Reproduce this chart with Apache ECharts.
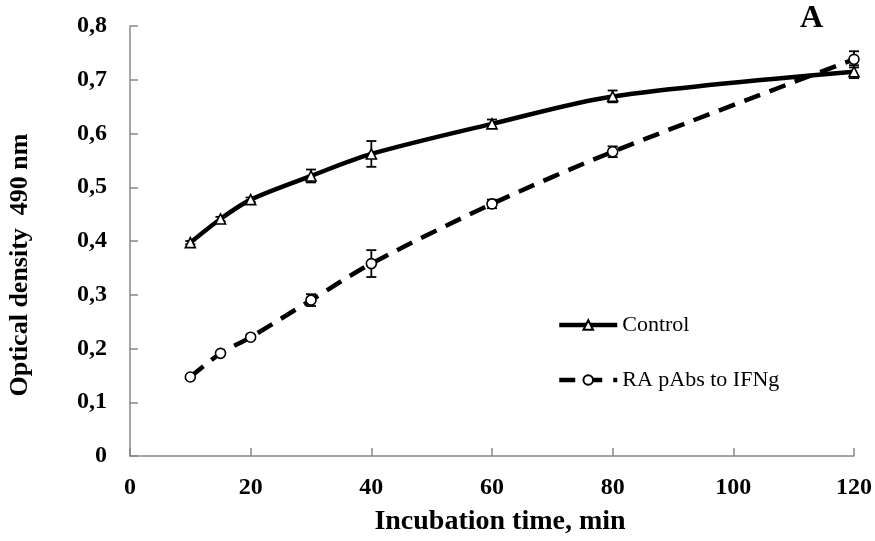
<!DOCTYPE html>
<html>
<head>
<meta charset="utf-8">
<script src="https://cdn.jsdelivr.net/npm/echarts@6/dist/echarts.min.js"></script>
<style>
  html, body { margin: 0; padding: 0; background: #fff; }
  #main { width: 875px; height: 541px; }
</style>
</head>
<body>
<div id="main"></div>
<script>
const times = [10, 15, 20, 30, 40, 60, 80, 120];
const control = [0.397, 0.441, 0.477, 0.521, 0.562, 0.618, 0.669, 0.715];
const controlErr = [0.003, 0.004, 0.004, 0.012, 0.024, 0.008, 0.011, 0.012];
const raAbs = [0.147, 0.191, 0.221, 0.290, 0.358, 0.469, 0.566, 0.738];
const raErr = [0.003, 0.003, 0.004, 0.011, 0.025, 0.008, 0.010, 0.015];

const serif = 'Liberation Serif';
const chart = echarts.init(document.getElementById('main'));

function pairs(ys) {
  return times.map((t, i) => [t, ys[i]]);
}
function errData(ys, es) {
  return times.map((t, i) => [t, ys[i] - es[i], ys[i] + es[i]]);
}
// vertical error bar with caps
function errBar(params, api) {
  const lo = api.coord([api.value(0), api.value(1)]);
  const hi = api.coord([api.value(0), api.value(2)]);
  const w = 5;
  const st = { stroke: '#000', lineWidth: 1.8 };
  return {
    type: 'group',
    children: [
      { type: 'line', shape: { x1: lo[0], y1: lo[1], x2: hi[0], y2: hi[1] }, style: st },
      { type: 'line', shape: { x1: lo[0] - w, y1: lo[1], x2: lo[0] + w, y2: lo[1] }, style: st },
      { type: 'line', shape: { x1: hi[0] - w, y1: hi[1], x2: hi[0] + w, y2: hi[1] }, style: st }
    ]
  };
}

const option = {
  animation: false,
  title: {
    text: 'A', left: 795, top: -2,
    textStyle: { fontFamily: serif, fontWeight: 'bold', fontSize: 32, color: '#000' }
  },
  graphic: [{
    type: 'text', x: 20, y: 265, rotation: Math.PI / 2,
    style: {
      text: 'Optical density  490 nm', align: 'center', verticalAlign: 'middle',
      font: 'bold 26px "Liberation Serif"', fill: '#000'
    }
  }],
  grid: { left: 130, right: 21, top: 26, bottom: 85 },
  legend: {
    data: [
      { name: 'Control' },
      { name: 'RA pAbs to IFNg', lineStyle: { type: [16, 11] } }
    ],
    orient: 'vertical',
    left: 552, top: 309,
    itemWidth: 58, itemHeight: 12, itemGap: 33,
    lineStyle: { width: 4.5 },
    textStyle: { fontFamily: serif, fontSize: 22, color: '#000' }
  },
  xAxis: {
    type: 'value', min: 0, max: 120, interval: 20,
    name: 'Incubation time, min', nameLocation: 'middle', nameGap: 52,
    nameTextStyle: { fontFamily: serif, fontWeight: 'bold', fontSize: 28, color: '#000', padding: [0, 0, 0, 16] },
    axisLine: { lineStyle: { color: '#888', width: 1.5 } },
    axisTick: { inside: true, length: 8, lineStyle: { color: '#888', width: 1.5 } },
    axisLabel: { margin: 20, fontFamily: serif, fontWeight: 'bold', fontSize: 24, color: '#000' },
    splitLine: { show: false }
  },
  yAxis: {
    type: 'value', min: 0, max: 0.8, interval: 0.1,
    axisLine: { show: true, lineStyle: { color: '#888', width: 1.5 } },
    axisTick: { show: true, inside: true, length: 8, lineStyle: { color: '#888', width: 1.5 } },
    axisLabel: {
      margin: 23, fontFamily: serif, fontWeight: 'bold', fontSize: 24, color: '#000',
      formatter: v => (Math.round(v * 10) / 10).toString().replace('.', ',')
    },
    splitLine: { show: false }
  },
  series: [
    {
      name: 'ctrlErr', type: 'custom', z: 1,
      renderItem: errBar, data: errData(control, controlErr)
    },
    {
      name: 'raErr', type: 'custom', z: 1,
      renderItem: errBar, data: errData(raAbs, raErr)
    },
    {
      name: 'Control', type: 'line', z: 3, smooth: 0.3,
      data: pairs(control),
      symbol: 'triangle', symbolSize: 10, showAllSymbol: true,
      lineStyle: { color: '#000', width: 4.5 },
      itemStyle: { color: '#fff', borderColor: '#000', borderWidth: 1.6 }
    },
    {
      name: 'RA pAbs to IFNg', type: 'line', z: 2, smooth: 0.3,
      data: pairs(raAbs),
      symbol: 'circle', symbolSize: 10, showAllSymbol: true,
      lineStyle: { color: '#000', width: 4.5, type: [17, 10] },
      itemStyle: { color: '#fff', borderColor: '#000', borderWidth: 1.6 }
    }
  ]
};

chart.setOption(option);
</script>
</body>
</html>
